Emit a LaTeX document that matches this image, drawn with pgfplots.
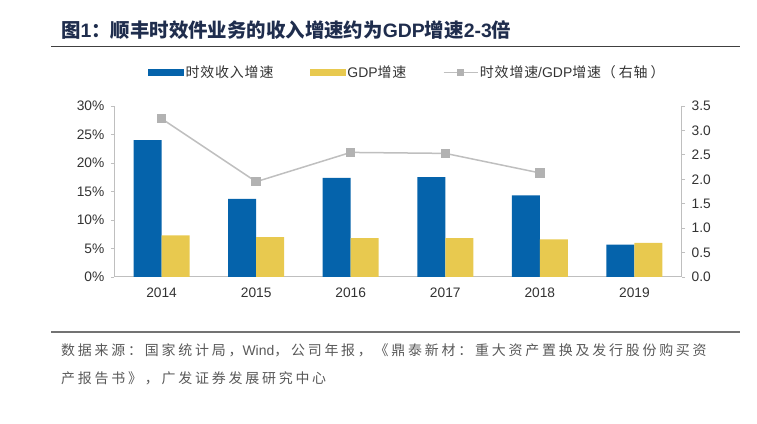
\documentclass[border=0pt]{standalone}
\usepackage{pgfplots}
\pgfplotsset{compat=1.18}
\usepackage{fontspec}
\setmainfont{Liberation Sans}
\newfontfamily\cjk{Noto Sans CJK SC}
\newfontfamily\cjkleg[LetterSpace=6]{Noto Sans CJK SC}
\newfontfamily\cjksrc[LetterSpace=20]{Noto Sans CJK SC}
\definecolor{barblue}{HTML}{0563AB}
\definecolor{baryellow}{HTML}{E8C94F}
\definecolor{linegray}{HTML}{BFBFBF}
\definecolor{markgray}{HTML}{B2B2B2}
\definecolor{titleblue}{HTML}{1F2D4D}
\definecolor{axisgray}{HTML}{BFBFBF}
\definecolor{textgray}{HTML}{333333}
\definecolor{srcgray}{HTML}{595959}
\begin{document}
\begin{tikzpicture}
\useasboundingbox (0bp,0bp) rectangle (757bp,424bp);
\node[anchor=west, inner sep=0, text=titleblue, font=\fontsize{19.5}{22}\selectfont\bfseries] at (61bp,394bp)
  {{\cjk 图}1{\cjk ：顺丰时效件业务的收入增速约为}GDP{\cjk 增速}2-3{\cjk 倍}};
\draw[line width=1.5bp, color=black!75] (51bp,377.3bp) -- (740bp,377.3bp);
\draw[line width=1.5bp, color=black!55] (51bp,92bp) -- (740bp,92bp);
\node[anchor=west, inner sep=0, text=srcgray, font=\fontsize{14}{16}\selectfont] at (61bp,74bp)
  {{\cjksrc 数据来源：国家统计局，}Wind{\cjksrc ，公司年报，《鼎泰新材：重大资产置换及发行股份购买资}};
\node[anchor=west, inner sep=0, text=srcgray, font=\fontsize{14}{16}\selectfont] at (61bp,46bp)
  {{\cjksrc 产报告书》，广发证券发展研究中心}};

\begin{axis}[
  at={(114.3bp,147bp)}, anchor=south west, scale only axis,
  width=567.4bp, height=171bp,
  xmin=-0.5, xmax=5.5, ymin=0, ymax=30,
  xtick={0,1,2,3,4,5}, xticklabels={2014,2015,2016,2017,2018,2019},
  ytick={0,5,10,15,20,25,30},
  yticklabel={\pgfmathprintnumber{\tick}\%},
  axis x line*=bottom, axis y line*=left,
  axis line style={-, draw=axisgray, line width=1bp},
  xtick style={draw=none},
  ytick style={draw=axisgray, line width=0.8bp},
  tick align=outside, major tick length=3.5bp,
  tick label style={font=\fontsize{13.8}{15}\selectfont, text=textgray},
  /pgf/number format/assume math mode=true,
  yticklabel style={xshift=-3bp},
  xticklabel style={yshift=-4bp},
  ybar=0pt, bar width=28bp,
  legend columns=3,
  legend style={draw=none, fill=none, at={(0.516,1.195)}, anchor=center,
    font=\fontsize{14}{15}\selectfont, text=textgray,
    nodes={inner sep=1.5bp},
    /tikz/every even column/.append style={column sep=35bp}},
  legend image code/.code={\fill[#1] (0bp,-3.5bp) rectangle (36bp,3.5bp);},
]
\addplot[fill=barblue, draw=none] coordinates {(0,24.0) (1,13.7) (2,17.4) (3,17.5) (4,14.3) (5,5.7)};
\addlegendentry{{\cjkleg 时效收入增速}}
\addplot[fill=baryellow, draw=none] coordinates {(0,7.3) (1,7.0) (2,6.8) (3,6.8) (4,6.6) (5,6.0)};
\addlegendentry{GDP{\cjkleg 增速}}
\addlegendimage{legend image code/.code={\draw[linegray, line width=1.5bp] (0bp,0bp) -- (34bp,0bp); \fill[markgray] (14bp,-3bp) rectangle (20bp,3bp);}}
\addlegendentry{{\cjkleg 时效增速}/GDP{\cjkleg 增速（\hspace{3bp}右轴\hspace{3bp}）}}
\end{axis}

\begin{axis}[
  at={(114.3bp,147bp)}, anchor=south west, scale only axis,
  width=567.4bp, height=171bp,
  xmin=-0.5, xmax=5.5, ymin=0, ymax=3.5,
  axis y line*=right, axis x line=none,
  axis line style={-, draw=axisgray, line width=1bp},
  ytick={0,0.5,1,1.5,2,2.5,3,3.5},
  ytick style={draw=axisgray, line width=0.8bp},
  tick align=outside, major tick length=3.5bp,
  yticklabel style={font=\fontsize{13.8}{15}\selectfont, text=textgray, xshift=3bp,
    /pgf/number format/.cd, fixed, fixed zerofill, precision=1, assume math mode=true},
]
\addplot[linegray, line width=1.5bp, mark=square*, mark size=4bp, mark options={fill=markgray, draw=markgray}]
  coordinates {(0,3.24) (1,1.95) (2,2.55) (3,2.53) (4,2.13)};
\end{axis}
\end{tikzpicture}
\end{document}
